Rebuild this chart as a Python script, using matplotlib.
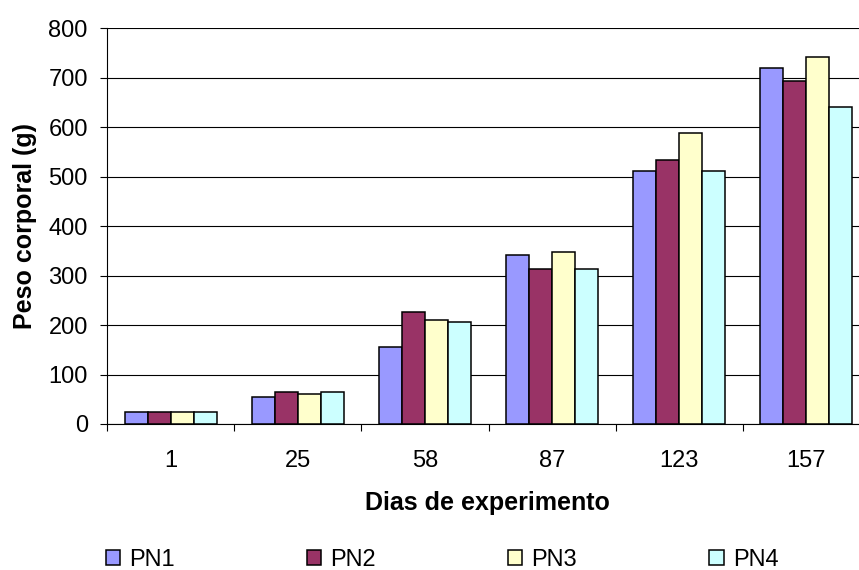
import matplotlib
matplotlib.use("Agg")
import matplotlib.pyplot as plt
import numpy as np

days = ["1", "25", "58", "87", "123", "157"]
series_names = ["PN1", "PN2", "PN3", "PN4"]
pn1 = [25, 55, 155, 342, 511, 719]
pn2 = [25, 65, 226, 313, 534, 693]
pn3 = [25, 61, 210, 348, 588, 742]
pn4 = [25, 64, 207, 313, 511, 641]
colors = ["#9999FF", "#993366", "#FFFFCC", "#CCFFFF"]
yticks = [0, 100, 200, 300, 400, 500, 600, 700, 800]

plt.rcParams['font.family'] = ['Liberation Sans', 'DejaVu Sans']

W, H = 859, 570
fig = plt.figure(figsize=(W / 100, H / 100), dpi=100)
left, right = 107.3 / W, 869.8 / W
top, bottom = 1 - 28.3 / H, 1 - 424 / H
ax = fig.add_axes([left, bottom, right - left, top - bottom])

x = np.arange(len(days))
bw = 0.181
allvals = [pn1, pn2, pn3, pn4]
handles = []
for i, (vals, c, name) in enumerate(zip(allvals, colors, series_names)):
    h = ax.bar(x + (i - 1.5) * bw, vals, width=bw, color=c, edgecolor="black",
               linewidth=1.1, label=name, zorder=3)
    handles.append(h)

ax.set_xlim(-0.5, len(days) - 0.5)
ax.set_ylim(0, 800)
ax.set_yticks(yticks)
ax.set_yticklabels([str(v) for v in yticks], fontsize=17)
ax.yaxis.grid(True, color="black", linewidth=0.8, zorder=0)
ax.set_axisbelow(True)

ax.set_xticks(x)
ax.set_xticklabels(days, fontsize=17)
ax.set_xticks(np.arange(len(days) + 1) - 0.5, minor=True)
ax.tick_params(axis="x", which="major", length=0, pad=19)
ax.tick_params(axis="x", which="minor", length=5, width=0.8, direction="out")
ax.tick_params(axis="y", length=5, width=0.8, direction="out", pad=9)

for s in ["top", "right"]:
    ax.spines[s].set_visible(False)
ax.spines["left"].set_linewidth(0.8)
ax.spines["bottom"].set_linewidth(0.8)

ax.set_ylabel("Peso corporal (g)", fontsize=18, fontweight="bold")
ax.yaxis.set_label_coords((25 - 107.3) / (869.8 - 107.3), (424 - 225.7) / (424 - 28.3))
ax.yaxis.label.set_va("center")
ax.set_xlabel("Dias de experimento", fontsize=18, fontweight="bold")
ax.xaxis.set_label_coords((487.5 - 107.3) / (869.8 - 107.3), (424 - 503) / (424 - 28.3))
ax.xaxis.label.set_va("center")

leg = fig.legend(handles=handles, labels=series_names, ncol=4, loc="center left",
                 bbox_to_anchor=(105.7 / W, 1 - 560 / H), frameon=False,
                 fontsize=17, handlelength=0.6, handleheight=0.6,
                 handletextpad=0.39, columnspacing=5.6, borderpad=0,
                 borderaxespad=0)

fig.savefig("out.png", dpi=100)
